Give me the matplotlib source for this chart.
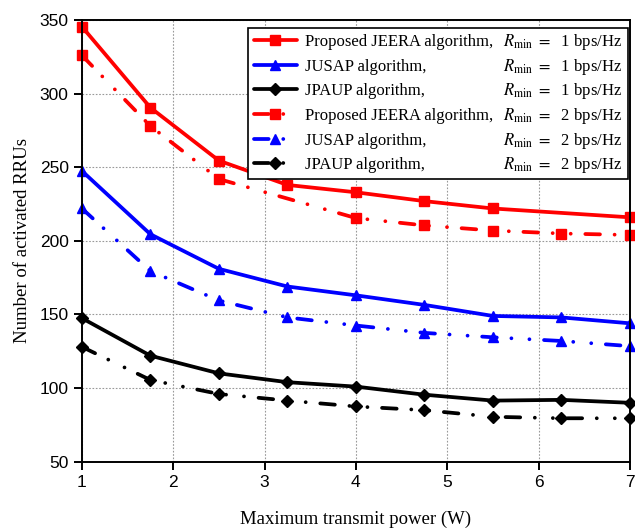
import matplotlib
matplotlib.use("Agg")
import matplotlib.pyplot as plt

plt.rcParams['mathtext.fontset'] = 'stix'

# maximum transmit power (W)
x_all = [1, 1.75, 2.5, 3.25, 4, 4.75, 5.5, 6.25, 7]
x_jeera1 = [1, 1.75, 2.5, 3.25, 4, 4.75, 5.5, 7]
x_jeera2 = [1, 1.75, 2.5, 4, 4.75, 5.5, 6.25, 7]

jeera_r1 = [345.5, 290.5, 254.5, 238, 233, 227, 222, 216]
jusap_r1 = [247.5, 204.5, 181, 169, 163, 156.5, 149, 148, 144]
jpaup_r1 = [147.5, 122, 110, 104, 101, 95.5, 91.5, 92, 90]
jeera_r2 = [326, 278, 242, 215.5, 210.5, 207, 205, 204]
jusap_r2 = [222, 179.5, 159.5, 148, 142.5, 137.5, 134.5, 132, 128.5]
jpaup_r2 = [128, 105.5, 96, 91.5, 87.5, 85, 80.5, 79.5, 79.5]

names = ['Proposed JEERA algorithm,', 'JUSAP algorithm,', 'JPAUP algorithm,']
rates = ['1', '2']

dd = (3.9, 3.9, 0.01, 4.8, 0.01, 3.9)

fig = plt.figure(figsize=(6.35, 5.28), dpi=100)
ax = fig.add_axes([0.129, 0.1256, 0.863, 0.8364])

series = [
    (x_jeera1, jeera_r1, 'red', 's', None),
    (x_all, jusap_r1, 'blue', '^', None),
    (x_all, jpaup_r1, 'black', 'D', None),
    (x_jeera2, jeera_r2, 'red', 's', dd),
    (x_all, jusap_r2, 'blue', '^', dd),
    (x_all, jpaup_r2, 'black', 'D', dd),
]
ms = {'s': 6.5, '^': 7.5, 'D': 6.5}
handles = []
for xs, ys, c, m, dash in series:
    ln, = ax.plot(xs, ys, color=c, lw=2.7, marker=m, ms=ms[m],
                  solid_capstyle='round', dash_capstyle='round', clip_on=False)
    if dash is not None:
        ln.set_dashes(dash)
    handles.append(ln)

ax.set_xlim(1, 7)
ax.set_ylim(50, 350)
ax.set_xticks(range(1, 8))
ax.set_yticks(range(50, 351, 50))
ax.grid(True, color='0.6', linestyle=(0, (1.5, 1.5)), lw=0.8)
ax.tick_params(direction='out', length=6, width=1.4, labelsize=12.5)
for lab in ax.get_xticklabels() + ax.get_yticklabels():
    lab.set_family('Liberation Sans')
for s in ax.spines.values():
    s.set_linewidth(1.4)

ax.set_xlabel('Maximum transmit power (W)', family='Liberation Serif',
              fontsize=13.5, labelpad=15)
ax.set_ylabel('Number of activated RRUs', family='Liberation Serif',
              fontsize=13.5, labelpad=6)

labels = names + names
leg = ax.legend(handles, labels, loc='upper right', mode='expand',
                bbox_to_anchor=(0.303, 0.642, 0.693, 0.34),
                prop={'family': 'Liberation Serif', 'size': 12},
                handlelength=2.6, handletextpad=0.5,
                labelspacing=0.52, borderpad=0.35, borderaxespad=0.0,
                frameon=True, fancybox=False, edgecolor='black', framealpha=1)
leg.get_frame().set_linewidth(1.2)
leg.set_zorder(5)

# second column of the legend: minimum rate
fig.canvas.draw()
frame = leg.get_frame().get_window_extent()
inv = fig.transFigure.inverted()
for i, t in enumerate(leg.get_texts()):
    xd, yd = t.get_transform().transform(t.get_position())
    fx, fy = inv.transform((frame.x1 - 6, yd))
    fig.text(fx, fy, r'$R_{\rm min}$ $=$  ' + rates[i // 3] + ' bps/Hz',
             ha='right', va='baseline', family='Liberation Serif',
             fontsize=12, zorder=6)

fig.savefig('out.png', dpi=100)
